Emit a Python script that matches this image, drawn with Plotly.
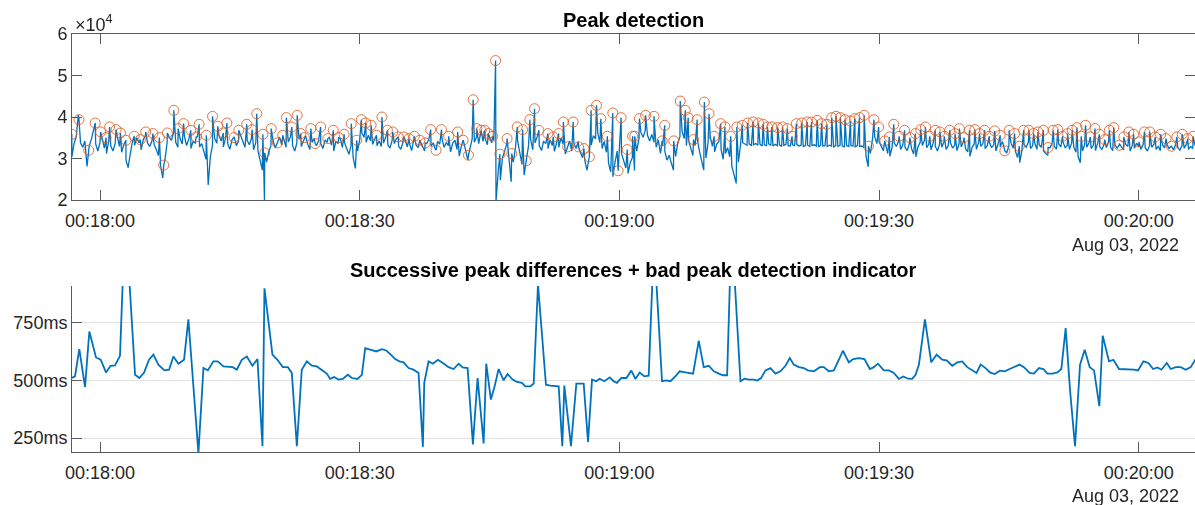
import numpy as np
import pandas as pd
import plotly.graph_objects as go

# ---------------- data ----------------
t_origin = "2022-08-03 00:18:00"

# raw signal between peaks (counts / 100), sampled every 0.25 s starting at sig_t0_s (s from origin)
sig_t0_s = -3.25
sig_dt_s = 0.25
sig_hundreds = [
    304, 336, 352, 405, 338, 327, 342, 281, 330, 346, 368, 335, 318, 339, 349, 325, 312, 341, 330, 318,
    336, 352, 329, 315, 334, 296, 278, 312, 341, 332, 350, 338, 321, 345, 356, 337, 329, 342, 334, 322,
    307, 283, 253, 296, 338, 351, 344, 362, 339, 327, 348, 335, 354, 331, 346, 324, 341, 337, 352, 328,
    336, 314, 298, 236, 305, 332, 348, 337, 355, 342, 328, 349, 336, 322, 345, 352, 331, 342, 356, 338,
    327, 344, 333, 348, 321, 339, 318, 296, 272, 200, 291, 317, 331, 342, 326, 338, 351, 333, 345, 327,
    340, 352, 331, 318, 338, 346, 329, 341, 355, 334, 322, 339, 348, 331, 343, 336, 324, 345, 339, 351,
    332, 318, 341, 336, 349, 327, 338, 322, 310, 331, 302, 276, 318, 345, 362, 351, 339, 356, 343, 334,
    348, 331, 342, 329, 337, 351, 333, 325, 344, 336, 348, 330, 322, 339, 345, 328, 336, 319, 341, 333,
    326, 342, 331, 318, 336, 347, 329, 338, 322, 341, 335, 349, 327, 338, 331, 316, 337, 344, 322, 306,
    330, 341, 318, 296, 325, 348, 339, 352, 336, 358, 341, 347, 333, 352, 338, 344, 196, 268, 248, 302,
    318, 336, 298, 244, 291, 327, 341, 312, 286, 260, 297, 329, 346, 321, 338, 352, 331, 319, 342, 336,
    324, 345, 331, 317, 338, 327, 349, 335, 311, 329, 342, 318, 336, 324, 341, 315, 302, 296, 272, 301,
    332, 355, 347, 362, 338, 324, 341, 315, 289, 268, 256, 291, 318, 339, 312, 295, 277, 264, 289, 302,
    271, 318, 346, 362, 351, 369, 356, 342, 358, 339, 327, 345, 312, 331, 318, 296, 308, 289, 272, 305,
    338, 352, 365, 348, 331, 343, 322, 307, 331, 346, 318, 294, 272, 301, 338, 352, 329, 316, 335, 341,
    322, 298, 312, 326, 304, 281, 262, 240, 291, 333, 338, 334, 332, 335, 331, 333, 336, 332, 334, 330,
    333, 331, 335, 332, 330, 334, 331, 333, 329, 332, 334, 331, 330, 333, 331, 334, 330, 332, 329, 331,
    332, 329, 331, 333, 330, 328, 332, 330, 331, 329, 332, 330, 328, 331, 329, 332, 330, 328, 331, 329,
    331, 330, 328, 331, 329, 330, 327, 305, 280, 312, 348, 352, 336, 341, 328, 319, 334, 312, 305, 326,
    338, 329, 341, 322, 333, 327, 319, 336, 324, 311, 304, 328, 339, 331, 344, 326, 334, 321, 337, 329,
    318, 335, 327, 340, 322, 331, 338, 325, 333, 319, 336, 328, 341, 323, 316, 305, 327, 335, 322, 338,
    329, 336, 324, 331, 339, 326, 333, 318, 335, 328, 341, 322, 314, 330, 337, 325, 318, 302, 290, 319,
    334, 327, 339, 324, 331, 336, 322, 333, 327, 318, 312, 308, 326, 337, 329, 323, 335, 328, 340, 326,
    331, 322, 337, 328, 315, 304, 290, 318, 333, 327, 338, 324, 331, 319, 336, 328, 322, 334, 326, 339,
    327, 319, 333, 325, 336, 328, 321, 334, 329, 318, 331, 325, 337, 329, 322, 333, 326, 318, 331, 327,
    334, 322, 329, 319, 332, 326, 335, 324, 330, 321, 333, 327, 320, 331, 325, 334, 322, 329, 324, 331,
]

# detected peaks: time (s from origin) and amplitude
peak_t_s = [
    -3.26, -2.43, -1.30, -0.55, 0.07, 0.70, 1.11, 1.86, 2.36, 2.99, 3.95, 4.66, 5.28, 6.11, 6.86, 7.36,
    7.78, 8.53, 9.03, 9.66, 10.49, 11.11, 11.45, 12.28, 13.00, 13.61, 14.24, 14.66, 15.49, 16.03, 16.95,
    17.57, 18.11, 18.82, 19.03, 19.78, 20.49, 21.11, 21.53, 22.16, 22.78, 23.20, 23.61, 24.36, 24.86,
    25.49, 26.32, 26.95, 27.57, 28.20, 29.03, 29.66, 30.20, 30.70, 31.32, 31.95, 32.57, 33.20, 33.82,
    34.45, 35.07, 35.70, 36.32, 36.95, 37.57, 38.20, 38.82, 39.45, 40.28, 41.32, 41.95, 42.57, 43.11,
    43.53, 44.03, 44.45, 44.86, 45.36, 45.70, 46.20, 47.03, 47.57, 48.20, 48.82, 49.24, 49.66, 50.20,
    50.70, 51.74, 52.36, 52.99, 53.53, 54.03, 54.66, 55.28, 55.91, 56.53, 56.74, 57.36, 57.86, 58.61,
    59.24, 59.86, 60.20, 60.91, 61.53,
    61.78, 62.32, 63.03, 64.00, 64.95, 65.24, 66.28, 67.03, 67.61, 67.95, 68.57, 68.99, 69.82, 70.36,
    70.95, 71.70, 72.20, 72.86, 73.57, 74.20, 74.82, 75.45, 76.07, 76.61, 77.11, 77.61, 78.28, 78.86,
    79.41, 79.95, 80.45, 81.07, 81.70, 82.20, 82.86, 83.36, 83.99, 84.53, 85.03, 85.53, 86.07, 86.70,
    87.20, 87.74, 88.28, 88.78, 89.41, 89.95, 90.66, 91.20, 91.70, 92.32, 92.95, 93.57, 94.20, 94.82,
    95.36, 95.86, 96.49, 97.03, 97.53, 98.16, 98.78, 99.28, 99.82, 100.45, 101.07, 101.61, 102.20,
    102.74, 103.36, 103.99, 104.53, 105.03, 105.66, 106.20, 106.70, 107.32, 107.86, 108.36, 108.99,
    109.53, 110.11, 110.65, 111.20, 111.78, 112.32, 112.86, 113.36, 113.86, 114.41, 114.95, 115.45,
    116.07, 116.61, 117.11, 117.74, 118.28, 118.86, 119.41, 120.03, 120.66, 121.28, 121.91, 122.53,
    123.16, 123.78, 124.41, 125.03, 125.66, 126.28,
]
peak_amp = [
    35840, 39360, 32000, 38560, 36400, 35040, 37600, 36960, 36160, 34400, 35360, 34560, 36400, 36000, 35040, 28400,
    36160, 41600, 37200, 38400, 36800, 35200, 38240, 35600, 40160, 37760, 36160, 38560, 35040, 36800, 38240,
    36960, 40800, 35840, 31360, 37200, 33760, 35600, 39840, 37600, 40400, 36000, 35040, 37200, 33600,
    37600, 34800, 36800, 35040, 35840, 38400, 34400, 39360, 38560, 38000, 35600, 40000, 36800, 36400,
    35200, 35200, 34800, 35360, 34400, 33760, 36960, 32000, 36960, 35360, 36400, 34400, 30800, 44160,
    37200, 36800, 36800, 36000, 35360, 53600, 31040, 34800, 31200, 37600, 36960, 29440, 39360, 42000,
    36800, 36000, 35200, 36000, 38800, 32800, 38800, 32800, 32400, 30400, 41600, 42800, 39600, 35360,
    40960, 27040, 39840, 32160, 35360,
    35360, 39600, 40400, 40160, 34240, 38000, 34240, 43840, 41600, 39840, 34560, 39360, 43600, 40800,
    35360, 38400, 37600, 35360, 37600, 38000, 38560, 38800, 38560, 38240, 37600, 37600, 37440, 37600,
    37200, 35360, 38400, 38560, 38800, 38800, 39200, 38400, 38240, 39840, 40160, 39840, 39360, 39040,
    39600, 39840, 40400, 32960, 39360, 37600, 34240, 35200, 38240, 35360, 36800, 35040, 36000, 36960,
    37600, 35360, 36800, 36400, 35360, 36800, 36000, 37200, 35040, 36800, 36960, 36000, 36800,
    35360, 36640, 35600, 31840, 36800, 36000, 32960, 36800, 36800, 36000, 36400, 36800,
    32640, 36800, 36960, 35360, 36000, 36800, 37440, 35360, 38000, 35200, 37200, 35840,
    34560, 36800, 37440, 33200, 35200, 36400, 35840, 34000, 36400, 36400, 35200, 35840,
    34800, 32960, 35200, 35840, 34800, 35360,
]

# successive peak differences (ms) and their times (s from origin)
rr_t_s = [
    -3.28, -2.89, -2.39, -1.73, -1.23, -0.46, 0.08, 0.69, 1.23, 1.73, 2.31, 2.70, 3.28, 4.05, 4.55, 5.09,
    5.66, 6.17, 6.74, 7.44, 7.98, 8.48, 9.06, 9.71, 10.21, 11.37, 11.95, 12.45, 13.10, 13.60, 14.26, 14.84,
    15.34, 15.80, 16.38, 16.96, 17.61, 18.19, 18.77, 19.00, 19.92, 20.50, 21.12, 21.70, 22.16, 22.74,
    23.31, 23.89, 24.47, 25.05, 25.74, 26.20, 26.59, 27.05, 27.55, 28.05, 28.63, 29.09,
    29.75, 30.25, 30.64, 31.29, 31.91, 32.56, 33.06, 33.60, 34.10, 34.60, 35.07, 35.65, 36.22, 36.80,
    37.30, 37.46, 37.96, 38.46, 39.04, 39.61, 40.27, 40.85, 41.43, 41.89, 42.47, 43.08, 43.62, 44.32,
    44.62, 45.16, 45.59, 46.05, 46.63, 47.09, 47.67, 48.17, 48.75, 49.13, 49.71, 50.10, 50.60, 51.52,
    52.02, 52.99, 53.41, 53.64, 54.41, 55.03, 55.88, 56.38, 56.84, 57.34, 57.73, 58.27, 58.88, 59.34,
    59.73, 60.23, 60.81, 61.39, 61.85,
    62.35, 62.89, 63.39, 63.89, 64.16, 64.93, 65.43, 65.90, 66.47, 66.97, 67.63, 68.52, 69.17, 69.75,
    70.33, 70.91, 71.48, 71.98, 72.45, 72.83, 73.22, 73.99, 74.45, 74.95, 75.53, 75.92, 76.38, 76.88,
    77.46, 78.03, 78.61, 79.19, 79.69, 80.15, 80.73, 81.31, 81.77, 82.47, 83.16, 83.62, 84.20, 84.78,
    85.36, 85.82, 86.51, 87.01, 87.67, 88.32, 88.94, 89.40, 89.87, 90.56, 91.14, 91.71, 92.29, 92.79,
    93.37, 93.83, 94.22,
    94.61, 95.30, 96.03, 96.65, 97.30, 97.80, 98.46, 99.04, 99.61, 100.19, 100.77, 101.27, 101.73,
    102.31, 102.81, 103.35, 103.97, 104.51, 105.09, 105.66, 106.24, 106.74, 107.40, 107.90, 108.48,
    108.98, 109.44, 110.02, 110.60, 111.06, 111.56, 112.06, 112.64, 113.22, 113.76, 114.34, 114.84,
    115.45, 115.84, 116.57, 117.07, 117.73, 118.30, 118.88, 119.46, 119.92, 120.54, 121.12, 121.66,
    122.16, 122.62, 123.24, 123.70, 124.28, 124.86, 125.43, 126.01, 126.59,
]
rr_ms = [
    510, 517, 635, 471, 711, 599, 589, 534, 563, 565, 606, 1000, 1000, 524, 510, 534,
    589, 611, 568, 543, 546, 603, 572, 589, 764, 185, 553, 543, 582, 582, 560, 560,
    557, 546, 589, 603, 563, 592, 215, 898, 611, 589, 557, 557, 532, 215,
    546, 582, 563, 560, 539, 529, 506, 514, 503, 506, 524, 510,
    506, 524, 639, 632, 625, 635, 629, 611, 592, 582, 578, 553, 546, 532,
    212, 489, 582, 572, 589, 575, 557, 549, 572, 556, 553, 223, 510, 227,
    572, 417, 474, 549, 500, 527, 503, 493, 489, 474, 474, 486, 915, 481,
    477, 474, 215, 477, 215, 486, 486, 233, 503, 496, 507, 496, 513, 496,
    489, 510, 510, 542, 506,
    534, 517, 520, 1000, 1000, 496, 500, 496, 517, 539, 534, 529, 671, 557,
    563, 539, 529, 522, 522, 1000, 1000, 496, 507, 503, 503, 499, 510, 543,
    553, 529, 539, 563, 596, 568, 557, 553, 543, 539, 557, 557, 539, 543,
    589, 628, 578, 592, 596, 592, 549, 557, 572, 543, 543, 532, 506, 517,
    507, 506, 524,
    568, 764, 578, 611, 589, 586, 563, 578, 582, 557, 543, 532, 568,
    553, 534, 527, 542, 539, 549, 560, 568, 557, 532, 529, 553,
    549, 529, 529, 534, 549, 726, 460, 215, 568, 632, 557, 543,
    388, 693, 582, 589, 549, 549, 549, 546, 543, 582, 575, 549,
    556, 546, 575, 549, 557, 557, 546, 557, 592,
]

top_ytick_vals = [20000, 30000, 40000, 50000, 60000]
top_ytick_text = ["2", "3", "4", "5", "6"]
bot_ytick_vals = [250, 500, 750]
bot_ytick_text = ["250ms", "500ms", "750ms"]
xtick_times = ["00:18:00", "00:18:30", "00:19:00", "00:19:30", "00:20:00"]

# ---------------- build ----------------
base = pd.Timestamp(t_origin)
def to_dt(secs):
    return base + pd.to_timedelta(np.asarray(secs, dtype=float), unit="s")

sig_t = sig_t0_s + sig_dt_s * np.arange(len(sig_hundreds))
sig_v = np.asarray(sig_hundreds, dtype=float) * 100
all_t = np.concatenate([sig_t, np.asarray(peak_t_s, dtype=float)])
all_v = np.concatenate([sig_v, np.asarray(peak_amp, dtype=float)])
order = np.argsort(all_t, kind="stable")

W, H = 1195, 505
BLUE = "#0072BD"
ORANGE = "#D95319"
TXT = "#262626"
AX = "#5a5a5a"
FONT = "Liberation Sans, Arial, Helvetica, sans-serif"

x_left, x_right = 72, 1195
px_per_s = 8.656
xr = [base + pd.Timedelta(seconds=(x_left - 100) / px_per_s),
      base + pd.Timedelta(seconds=(x_right - 100) / px_per_s)]
xticks = [pd.Timestamp("2022-08-03 " + s) for s in xtick_times]

fig = go.Figure()
fig.add_trace(go.Scatter(x=to_dt(all_t[order]), y=all_v[order], mode="lines",
                         line=dict(color=BLUE, width=1.3), xaxis="x", yaxis="y",
                         showlegend=False, hoverinfo="skip"))
fig.add_trace(go.Scatter(x=to_dt(peak_t_s), y=peak_amp, mode="markers",
                         marker=dict(symbol="circle-open", size=10, color=ORANGE,
                                     line=dict(width=0.9, color=ORANGE)),
                         opacity=0.9, xaxis="x", yaxis="y", showlegend=False))
fig.add_trace(go.Scatter(x=to_dt(rr_t_s), y=rr_ms, mode="lines",
                         line=dict(color=BLUE, width=1.8), xaxis="x2", yaxis="y2",
                         showlegend=False))

def py(pix):
    return 1 - pix / H

common_x = dict(type="date", range=xr, tickvals=xticks, tickformat="%H:%M:%S",
                ticks="inside", ticklen=10, tickcolor=AX, showline=True, linecolor=AX,
                linewidth=1, showgrid=False, zeroline=False, automargin=False,
                ticklabelstandoff=4,
                tickfont=dict(family=FONT, size=18, color=TXT))

fig.update_layout(
    width=W, height=H, margin=dict(l=0, r=0, t=0, b=0, pad=0, autoexpand=False),
    paper_bgcolor="white", plot_bgcolor="white",
    font=dict(family=FONT, size=18, color=TXT),
    xaxis=dict(domain=[x_left / W, x_right / W], anchor="y", mirror="allticks", **common_x),
    yaxis=dict(domain=[py(200), py(34)], anchor="x", range=[20000, 60000],
               tickvals=top_ytick_vals, ticktext=top_ytick_text, ticks="inside",
               ticklen=10, tickcolor=AX, showline=True, linecolor=AX, linewidth=1,
               mirror="allticks", showgrid=False, zeroline=False, automargin=False,
               tickfont=dict(family=FONT, size=18, color=TXT)),
    xaxis2=dict(domain=[x_left / W, x_right / W], anchor="y2", **common_x),
    yaxis2=dict(domain=[py(452), py(286)], anchor="x2", range=[190, 908],
                tickvals=bot_ytick_vals, ticktext=bot_ytick_text, ticks="inside",
                ticklen=10, tickcolor=AX, showline=True, linecolor=AX, linewidth=1,
                showgrid=True, gridcolor="#e3e3e3", gridwidth=1, zeroline=False,
                automargin=False, tickfont=dict(family=FONT, size=18, color=TXT)),
    annotations=[
        dict(text="<b>Peak detection</b>", x=(x_left + x_right) / 2 / W, y=py(19.5),
             xref="paper", yref="paper", xanchor="center", yanchor="middle",
             showarrow=False, font=dict(family=FONT, size=20, color="#000000")),
        dict(text="<b>Successive peak differences + bad peak detection indicator</b>",
             x=(x_left + x_right) / 2 / W, y=py(270), xref="paper", yref="paper",
             xanchor="center", yanchor="middle", showarrow=False,
             font=dict(family=FONT, size=20, color="#000000")),
        dict(text="×10<sup>4</sup>", x=73 / W, y=py(23), xref="paper", yref="paper",
             xanchor="left", yanchor="middle", showarrow=False,
             font=dict(family=FONT, size=18, color=TXT)),
        dict(text="Aug 03, 2022", x=1181 / W, y=py(245), xref="paper", yref="paper",
             xanchor="right", yanchor="middle", showarrow=False,
             font=dict(family=FONT, size=18, color=TXT)),
        dict(text="Aug 03, 2022", x=1181 / W, y=py(495.5), xref="paper", yref="paper",
             xanchor="right", yanchor="middle", showarrow=False,
             font=dict(family=FONT, size=18, color=TXT)),
    ],
)

fig.write_html("out.html")
